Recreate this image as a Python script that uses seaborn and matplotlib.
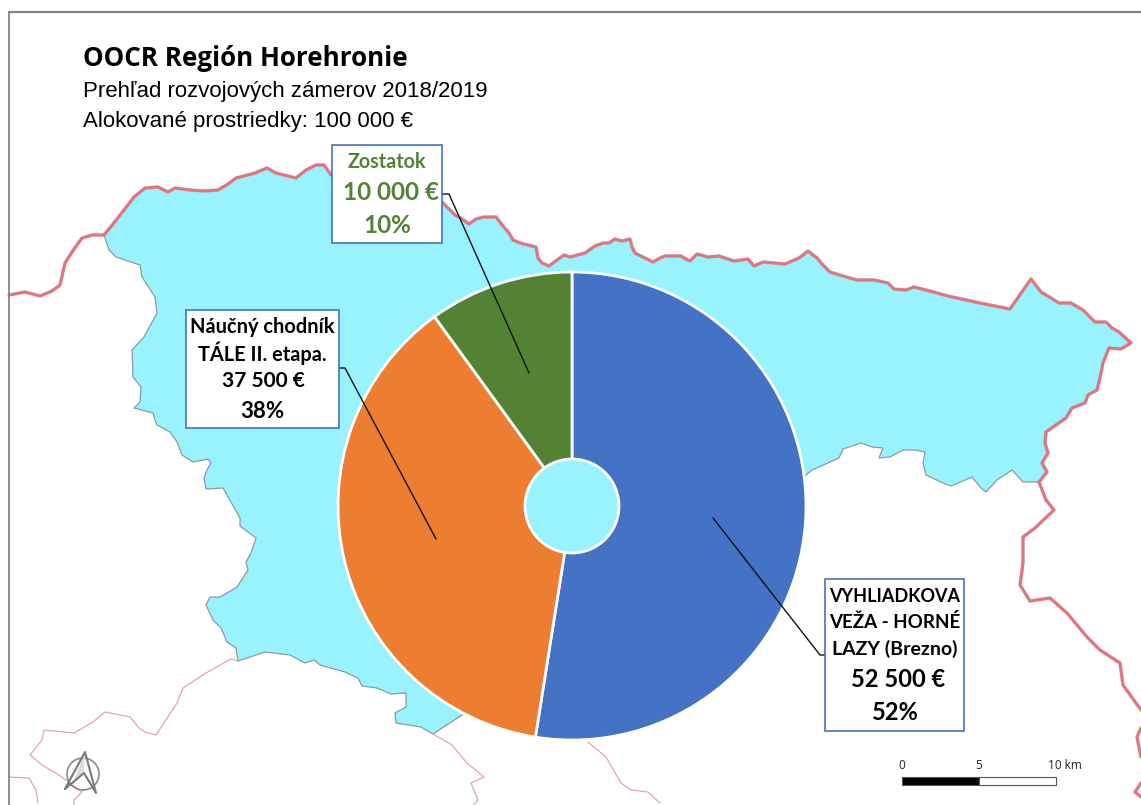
import matplotlib
matplotlib.use("Agg")
import matplotlib.pyplot as plt
from matplotlib.patches import Circle, Polygon, Rectangle
import seaborn as sns

# ---- chart data
categories = ["VYHLIADKOVA VEŽA - HORNÉ LAZY (Brezno)", "Náučný chodník TÁLE II. etapa.", "Zostatok"]
values = [52500, 37500, 10000]
colors = ["#4472C4", "#ED7D31", "#548235"]
title = "OOCR Región Horehronie"
subtitle_1 = "Prehľad rozvojových zámerov 2018/2019"
subtitle_2 = "Alokované prostriedky: 100 000 €"
label_zostatok = ["Zostatok", "10 000 €", "10%"]
label_naucny = ["Náučný chodník", "TÁLE II. etapa.", "37 500 €", "38%"]
label_veza = ["VYHLIADKOVA", "VEŽA - HORNÉ", "LAZY (Brezno)", "52 500 €", "52%"]
scale_labels = ["0", "5", "10 km"]

# ---- background map outlines (pixel coordinates of the picture)
region = [(104,235),(113,224),(124,210),(134,197),(145,188),(158,187),(168,192),(175,188),(190,190),(205,191),(218,190),
          (228,184),(236,178),(255,173),(267,168),(276,173),(296,178),(306,170),(316,165),(324,165),(331,175),
          (345,178),(400,180),(430,190),(443,203),(455,215),(462,219),(469,224),(476,219),(484,217),(496,217),
          (503,226),(509,233),(513,240),(520,243),(536,247),(538,258),(542,263),(549,266),(557,260),(564,255),
          (570,257),(585,253),(595,246),(603,243),(609,243),(615,239),(622,241),(630,239),(632,247),(635,253),
          (645,258),(653,262),(660,258),(665,256),(681,256),(686,259),(690,261),(697,254),(708,257),(719,256),
          (734,261),(748,259),(754,266),(763,262),(785,264),(799,258),(808,251),(817,258),(823,265),(830,272),
          (843,276),(857,280),(874,280),(888,283),(894,289),(906,290),(914,287),(930,291),(948,296),(980,303),
          (1010,309),(1031,279),(1041,292),(1051,298),(1059,303),(1071,303),(1083,310),(1095,322),(1106,322),
          (1112,328),(1119,332),(1131,343),(1121,349),(1109,348),(1103,363),(1100,378),(1097,390),(1088,395),
          (1085,403),(1072,408),(1066,418),(1046,432),(1045,443),(1048,453),(1042,463),(1047,472),(1039,482)]
region_south = [(1023,482),(1012,470),(997,480),(986,492),(981,488),(972,477),(951,486),(943,483),(926,475),
                (923,463),(925,452),(915,450),(903,450),(890,457),(879,458),(883,448),(872,447),(861,443),
                (843,449),(839,458),(812,470),(806,475),(700,600),(462,715),(433,734),(421,727),(396,723),
                (395,713),(406,707),(406,693),(391,694),(377,688),(362,686),(358,678),(345,672),(320,665),
                (314,660),(305,663),(290,655),(265,652),(238,661),(236,648),(227,642),(221,628),(213,620),
                (206,605),(210,597),(220,597),(237,587),(248,570),(246,562),(251,553),(256,538),(240,526),
                (240,518),(223,488),(206,489),(204,478),(207,470),(211,463),(208,459),(193,462),(182,455),
                (177,442),(170,432),(157,425),(155,420),(153,413),(134,408),(140,402),(141,387),(133,377),
                (132,350),(144,337),(157,313),(155,297),(142,277),(140,265),(116,257),(109,250)]
red_north = region
red_west = [(9,295),(25,292),(40,296),(52,291),(60,285),(65,263),(72,252),(82,238),(92,235),(104,235)]
red_east = [(1039,482),(1046,500),(1054,510),(1035,528),(1023,537),(1023,563),(1020,585),(1030,601),(1050,598),
            (1067,613),(1087,637),(1100,650),(1120,663),(1123,685),(1141,710)]
red_east_2 = [(1141,728),(1137,737),(1141,757)]
red_east_3 = [(1141,783),(1135,792),(1141,797)]
thin_lines = [
    [(433,734),(452,745),(467,763),(484,777),(471,783),(478,800),(473,805)],
    [(588,742),(606,757),(621,783),(631,790),(648,792),(660,803)],
    [(238,661),(231,659),(206,673),(183,688),(177,703),(156,735),(145,732),(139,728),(130,717),(105,712),(93,722),
     (74,733),(44,730),(42,740),(30,755),(42,765),(59,775),(82,792),(74,800),(74,805)],
    [(9,777),(29,778),(36,790),(38,803)],
]

sns.set_theme(style="white", rc={"figure.facecolor": "white"})
palette = sns.color_palette(colors)
SANS = "Liberation Sans"
LABEL = "Lato"

fig = plt.figure(figsize=(11.41, 8.05), dpi=100)
ax = fig.add_axes([0, 0, 1, 1])

# map
GREY = "#8A9AA0"
RED = "#EA7079"
ax.add_patch(Polygon(region + region_south, closed=True, fc="#99F3FF", ec=GREY, lw=0.9, zorder=1))
for line in [red_north, red_west, red_east, red_east_2, red_east_3]:
    xs, ys = zip(*line)
    ax.plot(xs, ys, color=GREY, lw=2.5, zorder=2, solid_joinstyle="round", alpha=0.6)
    ax.plot(xs, ys, color=RED, lw=2.0, zorder=3, solid_joinstyle="round")
for line in thin_lines:
    xs, ys = zip(*line)
    ax.plot(xs, ys, color="#E29AA2", lw=0.8, zorder=2)

# pie: the y axis runs downwards here, so angles grow clockwise on screen
CX, CY, R = 572, 506, 234
ax.pie(values, colors=palette, center=(CX, CY), radius=R, startangle=-90, counterclock=True,
       wedgeprops={"edgecolor": "white", "linewidth": 2, "zorder": 5}, frame=True)
ax.add_patch(Circle((CX, CY), 47, fc="#99F3FF", ec="white", lw=2, zorder=6))

# frame lines
ax.plot([9, 9], [805, 12], color="#858585", lw=1.3, zorder=4)
ax.plot([9, 1141], [12, 12], color="#858585", lw=1.6, zorder=4)

# titles
ax.text(83, 59, title, family="Open Sans", weight="bold", fontsize=18.7, color="black", va="center", zorder=10)
ax.text(83, 92, subtitle_1, family=SANS, fontsize=16, color="black", va="center", zorder=10)
ax.text(83, 121, subtitle_2, family=SANS, fontsize=16, color="black", va="center", zorder=10)

# leader lines
for pts in [[(442,194),(449,194),(529,373)], [(339,368),(345,368),(436,539)], [(825,655),(820,655),(713,518)]]:
    xs, ys = zip(*pts)
    ax.plot(xs, ys, color="#111111", lw=1.0, zorder=7)

# label boxes
def box(x0, y0, x1, y1):
    ax.add_patch(Rectangle((x0, y0), x1 - x0, y1 - y0, fc="white", ec="#4472C4", lw=1.2, zorder=8))

def put(x, y, s, size, color="black"):
    ax.text(x, y, s, family=LABEL, weight="bold", fontsize=size, color=color, ha="center", va="center", zorder=10)

box(332, 145, 442, 243)
put(387, 162, label_zostatok[0], 14.2, colors[2])
put(391, 192, label_zostatok[1], 17.5, colors[2])
put(387, 225, label_zostatok[2], 17.5, colors[2])

box(186, 310, 339, 428)
put(262, 327, label_naucny[0], 14.4)
put(262, 353, label_naucny[1], 14.4)
put(263, 381, label_naucny[2], 15)
put(262, 411, label_naucny[3], 16)

box(825, 579, 964, 731)
put(895, 596, label_veza[0], 13)
put(895, 622, label_veza[1], 13.5)
put(895, 649, label_veza[2], 14)
put(898, 679, label_veza[3], 17)
put(895, 712, label_veza[4], 17)

# north arrow
ax.add_patch(Circle((83, 774), 16, fc="none", ec="#8a8a8a", lw=1.2, zorder=9))
ax.add_patch(Polygon([(85,752),(72,785),(84,773)], closed=True, fc="#DDDDDD", ec="none", zorder=9))
ax.plot([65,85,96,84,65], [789,752,793,773,789], color="#7a7a7a", lw=1.5, zorder=9)

# scale bar
ax.add_patch(Rectangle((902, 777), 77, 8, fc="black", ec="#555555", lw=0.8, zorder=9))
ax.add_patch(Rectangle((979, 777), 77, 8, fc="white", ec="#555555", lw=0.8, zorder=9))
for x, s in zip([902, 979, 1065], scale_labels):
    ax.text(x, 765, s, family="Open Sans", fontsize=8.5, color="#222222", ha="center", va="center", zorder=9)

ax.set_xlim(0, 1141)
ax.set_ylim(805, 0)
ax.set_aspect("auto")
ax.set_xticks([])
ax.set_yticks([])
ax.set_frame_on(False)
fig.savefig("out.png", dpi=100, facecolor="white")
